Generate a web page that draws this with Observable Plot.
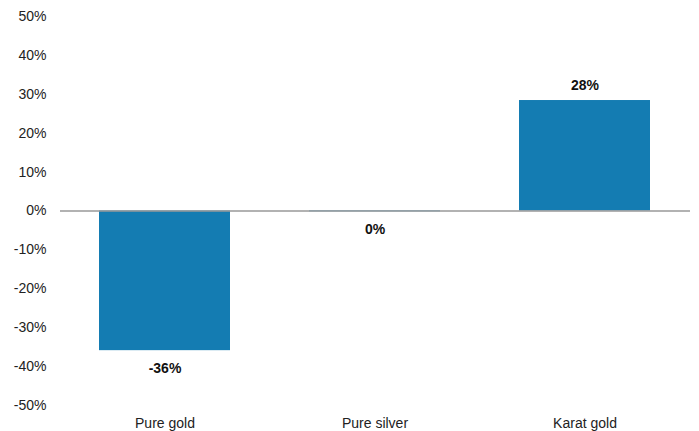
<!DOCTYPE html>
<html>
<head>
<meta charset="utf-8">
<script src="https://cdn.jsdelivr.net/npm/d3@7"></script>
<script src="https://cdn.jsdelivr.net/npm/@observablehq/plot@0.6"></script>
<style>
  html, body { margin: 0; padding: 0; background: #fff; }
  #chart svg { display: block; font-family: "Liberation Sans", Arial, sans-serif; }
</style>
</head>
<body>
<div id="chart"></div>
<script>
const categories = ["Pure gold", "Pure silver", "Karat gold"];
const values = [-35.9, -0.2, 28.4];
const valueLabels = ["-36%", "0%", "28%"];
const yTicks = [-50, -40, -30, -20, -10, 0, 10, 20, 30, 40, 50];

const data = categories.map((c, i) => ({category: c, value: values[i], label: valueLabels[i]}));

const chart = Plot.plot({
  width: 699,
  height: 431,
  marginTop: 16,
  marginBottom: 26,
  marginLeft: 60,
  marginRight: 9,
  style: {fontFamily: "'Liberation Sans', Arial, sans-serif", fontSize: "14px", color: "#222"},
  x: {domain: categories, paddingInner: 0.375, paddingOuter: 0.1875, label: null},
  y: {domain: [-50, 50], label: null},
  marks: [
    Plot.axisY({ticks: yTicks, tickSize: 0, tickPadding: 14, tickFormat: d => d + "%", fontSize: 14, label: null}),
    Plot.axisX({tickSize: 0, tickPadding: 13, fontSize: 14, label: null}),
    Plot.barY(data, {x: "category", y: "value", fill: "#147cb2"}),
    Plot.ruleY([0], {stroke: "#999", strokeWidth: 1.5}),
    Plot.text(data.filter(d => d.value >= 0), {
      x: "category", y: "value", text: "label", dy: -15,
      fontWeight: "bold", fontSize: 14, fill: "#111"
    }),
    Plot.text(data.filter(d => d.value < 0), {
      x: "category", y: "value", text: "label", dy: 18,
      fontWeight: "bold", fontSize: 14, fill: "#111"
    })
  ]
});
document.getElementById("chart").appendChild(chart);
</script>
</body>
</html>
